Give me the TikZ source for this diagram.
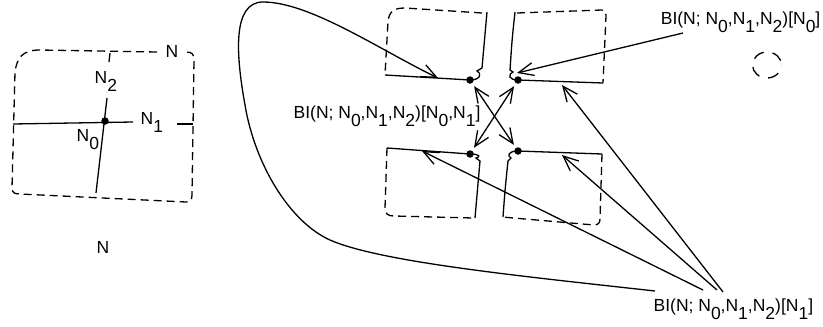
\documentclass[tikz,border=0pt]{standalone}
\usepackage{fontspec}
\setmainfont{Liberation Sans}
\usetikzlibrary{arrows.meta,shapes.geometric}
\newcommand{\lo}[1]{\raisebox{-8pt}{#1}}
\begin{document}
\begin{tikzpicture}[x=1pt,y=-1pt,line width=1.3pt,line cap=butt,
  lbl/.style={font=\fontsize{17.5}{20}\selectfont,inner sep=0pt,anchor=base west},
  dot/.style={circle,fill,inner sep=0pt,minimum size=7.5pt},
  dsh/.style={dash pattern=on 8pt off 5pt},
  arr/.style={-{Straight Barb[length=15pt,width=13pt]}},
  darr/.style={{Straight Barb[length=15pt,width=13pt]}-{Straight Barb[length=15pt,width=13pt]}}]
\useasboundingbox (0,0) rectangle (823,327);

% ---------- left figure ----------
\draw[dsh] (157,52) -- (40,50) .. controls (22,50) and (17,58) .. (15,72)
  -- (12,188) .. controls (12,193) and (15,194) .. (20,194)
  -- (186,202) .. controls (190,202) and (192,200) .. (192,195)
  -- (194,60) .. controls (194,54) and (192,52) .. (186,52);
\node[dot] (d0) at (105,121) {};
\node[lbl] (n2) at (94,83) {N\lo{2}};
\node[lbl] (n1) at (140,124) {N\lo{1}};
\node[lbl] (n0) at (76,141) {N\lo{0}};
\node[lbl] (nA) at (165,57) {N};
\node[lbl] (nB) at (96,253) {N};
\coordinate (h0) at (13,124);
\coordinate (h1) at (133,122);
\coordinate (h2) at (177,124);
\coordinate (h3) at (193,124);
\coordinate (v0) at (110,53);
\coordinate (v1) at (109,62);
\coordinate (v2) at (107,98);
\coordinate (v3) at (96,193);
\draw (h0) -- (h1);
\draw (h2) -- (h3);
\draw (v0) -- (v1);
\draw (v2) -- (v3);

% ---------- central figure ----------
\node[dot] (tl) at (470,80) {};
\node[dot] (tr) at (518,80) {};
\node[dot] (bl) at (470,154) {};
\node[dot] (br) at (518,151) {};

% top-left quadrant
\draw[dsh] (482,13) -- (405,8) .. controls (393,8) and (389,12) .. (388,22) -- (385,75);
\draw (385,75) -- (tl.center);
\draw (487,12) .. controls (485,40) .. (482,68) -- (477,71) .. controls (482,73) and (481,80) .. (tl.center);
% top-right quadrant
\draw[dsh] (517,13) -- (602,10) .. controls (605,10) and (606,12) .. (606,16) -- (603,83);
\draw (tr.center) -- (603,83);
\draw (515,12) .. controls (512,40) .. (510,70) -- (513,72) .. controls (508,74) and (508,80) .. (tr.center);
% bottom-left quadrant
\draw[dsh] (387,148) -- (385,208) .. controls (385,214) and (388,216) .. (394,216) -- (473,218);
\draw (387,148) -- (bl.center);
\draw (bl.center) .. controls (480,154) and (481,157) .. (476,158) -- (480,161) .. controls (478,190) .. (475,218);
% bottom-right quadrant
\draw[dsh] (602,154) -- (600,219) .. controls (600,223) and (598,225) .. (594,225) -- (502,217);
\draw (br.center) -- (602,154);
\draw (br.center) .. controls (508,151) and (507,156) .. (511,158) -- (508,161) .. controls (505,190) .. (503,217);

% cross arrows
\draw[darr,shorten <=3pt,shorten >=3pt] (tl) -- (br);
\draw[darr,shorten <=3pt,shorten >=3pt] (tr) -- (bl);

% labels
\node[lbl,anchor=base east] (la) at (821,24) {BI(N; N\lo{0},N\lo{1},N\lo{2})[N\lo{0}]};
\node[lbl] (lb) at (293,118) {BI(N; N\lo{0},N\lo{1},N\lo{2})[N\lo{0},N\lo{1}]};
\node[lbl] (lc) at (653,311) {BI(N; N\lo{0},N\lo{1},N\lo{2})[N\lo{1}]};

% small dashed circle
\node[draw,ellipse,dash pattern=on 11.5pt off 8.9pt,dash phase=16pt,minimum width=29pt,minimum height=26pt,inner sep=0pt] (sc) at (767,65) {};

% arrows from labels
\coordinate (a0) at (683,33);
\coordinate (a1) at (517,73);
\draw[arr] (a0) -- (a1);

\coordinate (c0) at (655,291);
\coordinate (c1) at (703,290);
\coordinate (c2) at (717,290);
\coordinate (c3) at (723,292);
\coordinate (t0) at (438,78);
\coordinate (t1) at (422,151);
\coordinate (t2) at (562,155);
\coordinate (t3) at (562,85);
\draw[arr] (c1) -- (t1);
\draw[arr] (c2) -- (t2);
\draw[arr] (c3) -- (t3);
\draw[arr] (c0) .. controls (520,276) and (380,262) .. (330,240)
  .. controls (290,222) and (255,165) .. (245,105)
  .. controls (236,55) and (232,2) .. (263,2)
  .. controls (310,2) and (380,50) .. (t0);
\end{tikzpicture}
\end{document}
